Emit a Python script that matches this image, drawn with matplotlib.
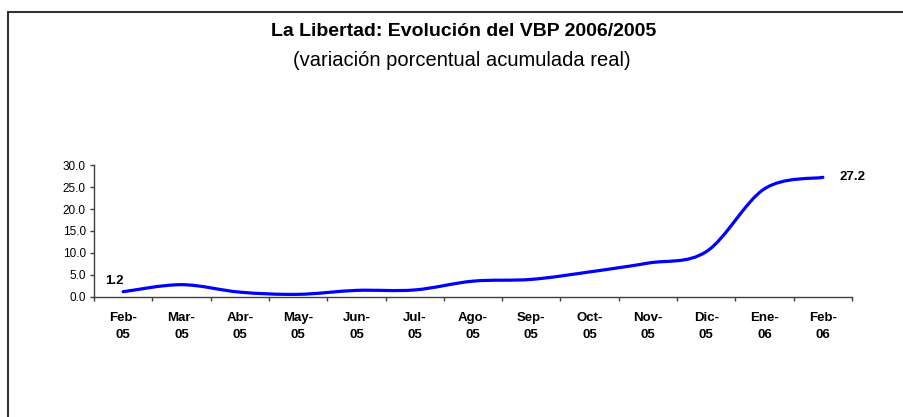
import numpy as np
import matplotlib.pyplot as plt
from matplotlib.path import Path
from matplotlib.patches import PathPatch, Rectangle

plt.rcParams['font.family'] = ['Liberation Sans', 'DejaVu Sans']

# datos: variacion porcentual acumulada real del VBP
meses = ["Feb-\n05", "Mar-\n05", "Abr-\n05", "May-\n05", "Jun-\n05", "Jul-\n05",
         "Ago-\n05", "Sep-\n05", "Oct-\n05", "Nov-\n05", "Dic-\n05", "Ene-\n06", "Feb-\n06"]
variacion = [1.2, 2.8, 1.1, 0.6, 1.5, 1.6, 3.6, 4.0, 5.7, 7.7, 10.3, 24.6, 27.2]
yticks = [0, 5, 10, 15, 20, 25, 30]


def linea_suave(x, y):
    # curva tipo Excel (bezier por tramos que pasa por cada punto)
    pts = np.column_stack([x, y]).astype(float)
    n = len(pts)
    verts = [tuple(pts[0])]
    codes = [Path.MOVETO]
    for i in range(n - 1):
        p0 = pts[i - 1] if i > 0 else pts[i]
        p3 = pts[i + 2] if i + 2 < n else pts[i + 1]
        c1 = pts[i] + (pts[i + 1] - p0) / 6.0
        c2 = pts[i + 1] - (p3 - pts[i]) / 6.0
        verts += [tuple(c1), tuple(c2), tuple(pts[i + 1])]
        codes += [Path.CURVE4] * 3
    return Path(verts, codes)


fig = plt.figure(figsize=(9.04, 4.17), dpi=100)
ax = fig.add_axes([0.104, 0.2878, 0.8385, 0.3165])

x = np.arange(len(meses))
ax.add_patch(PathPatch(linea_suave(x, variacion), fill=False,
                       edgecolor="#0000FF", lw=2.3, capstyle="round", joinstyle="round"))

ax.set_xlim(-0.5, len(meses) - 0.5)
ax.set_ylim(0, 30)
ax.set_yticks(yticks)
ax.set_yticklabels([f"{v:.1f}" for v in yticks], fontsize=8.5)

ax.set_xticks(x)
ax.set_xticklabels(meses, fontsize=9.5, fontweight="bold", linespacing=1.55)
ax.set_xticks(np.arange(-0.5, len(meses)), minor=True)
ax.tick_params(axis="x", which="major", length=0, pad=11)
ax.tick_params(axis="x", which="minor", length=3, width=1, color="#404040", direction="out")
ax.tick_params(axis="y", length=3, width=1, color="#404040", pad=3)

for s in ["top", "right"]:
    ax.spines[s].set_visible(False)
for s in ["left", "bottom"]:
    ax.spines[s].set_color("#404040")
    ax.spines[s].set_linewidth(1)

# etiquetas de primer y ultimo valor
ax.annotate(f"{variacion[0]:.1f}", (x[0], variacion[0]), xytext=(0, 8),
            textcoords="offset points", ha="right", va="center",
            fontsize=9.5, fontweight="bold")
ax.annotate(f"{variacion[-1]:.1f}", (x[-1], variacion[-1]), xytext=(12, 0),
            textcoords="offset points", ha="left", va="center",
            fontsize=9.5, fontweight="bold")

fig.text(0.513, 1 - 32 / 417, "La Libertad: Evolución del VBP 2006/2005",
         ha="center", va="center", fontsize=14, fontweight="bold")
fig.text(0.511, 1 - 61 / 417, "(variación porcentual acumulada real)",
         ha="center", va="center", fontsize=14.5)

# marco del grafico
fig.patches.append(Rectangle((8 / 904, -0.1), 1.2, 1.1 - 12 / 417,
                             transform=fig.transFigure, fill=False,
                             edgecolor="#333333", lw=1.5))

fig.savefig("out.png", dpi=100)
